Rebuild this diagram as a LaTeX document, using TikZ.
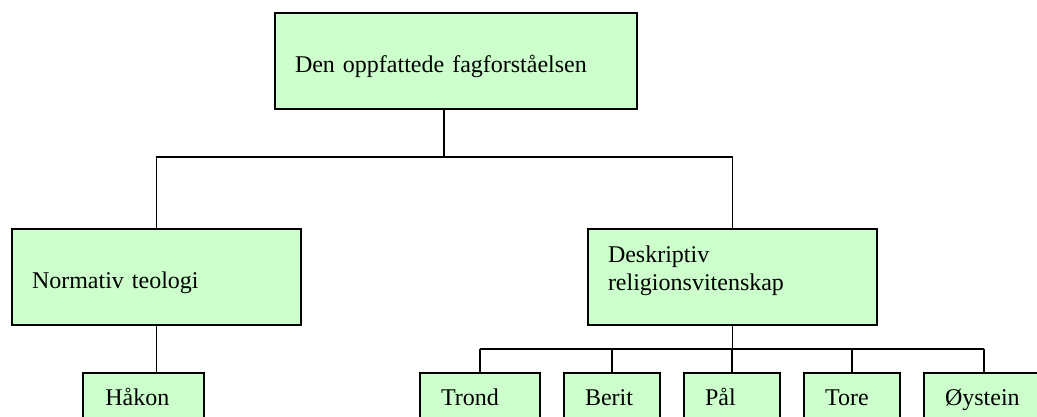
\documentclass[tikz,border=0pt]{standalone}
\usepackage{fontspec}
\setmainfont{Liberation Serif}
\usetikzlibrary{calc}
\definecolor{boxgreen}{HTML}{CCFFCC}
\begin{document}
\begin{tikzpicture}[x=1pt,y=-1pt,
  box/.style={draw=black, line width=2pt, fill=boxgreen, rectangle,
    align=left, inner ysep=0pt, font=\fontsize{24pt}{28pt}\selectfont},
  leaf/.style={box, minimum height=64pt, inner xsep=21pt,
    text height=0pt, text depth=0pt},
  link/.style={draw=black, line width=1.7pt}]
\useasboundingbox (0,0) rectangle (1037,417);
\clip (0,0) rectangle (1037,417);

% upper levels
\node[box, minimum width=362pt, minimum height=96pt, inner xsep=20pt,
  text width=322pt, text height=24pt, text depth=0pt]
  (top) at (456,61) {Den oppfattede fagforståelsen};
\node[box, minimum width=289pt, minimum height=96pt, inner xsep=20pt,
  text width=249pt, text height=22pt, text depth=0pt]
  (norm) at (156.5,277) {Normativ teologi};
\node[box, minimum width=289pt, minimum height=96pt, inner xsep=20pt,
  text width=249pt, text height=0pt, text depth=30pt]
  (desc) at (732.5,277) {Deskriptiv\\religionsvitenskap};

% persons
\node[leaf, minimum width=121pt, inner xsep=22pt, text width=77pt] (hakon) at (143.8,405) {Håkon};
\node[leaf, minimum width=120pt, text width=78pt] (trond) at (480,405) {Trond};
\node[leaf, minimum width=96pt, text width=54pt] (berit) at (612,405) {Berit};
\node[leaf, minimum width=96pt, text width=54pt] (pal) at (732,405) {Pål};
\node[leaf, minimum width=96pt, text width=54pt] (tore) at (852,405) {Tore};
\node[leaf, minimum width=120pt, text width=78pt] (oystein) at (984,405) {Øystein};

% connectors
\coordinate (hub) at (444,157);
\coordinate (bus) at (732,349);
\draw[link] (top.south -| hub) -- (hub);
\draw[link] (norm.north) -- (norm.north |- hub) -- (desc.north |- hub) -- (desc.north);
\draw[link] (norm.south) -- (hakon.north -| norm.south);
\draw[link] (desc.south) -- (desc.south |- bus);
\draw[link] (trond.north |- bus) -- (oystein.north |- bus);
\foreach \n in {trond,berit,pal,tore,oystein}
  \draw[link] (\n.north |- bus) -- (\n.north);
\end{tikzpicture}
\end{document}
